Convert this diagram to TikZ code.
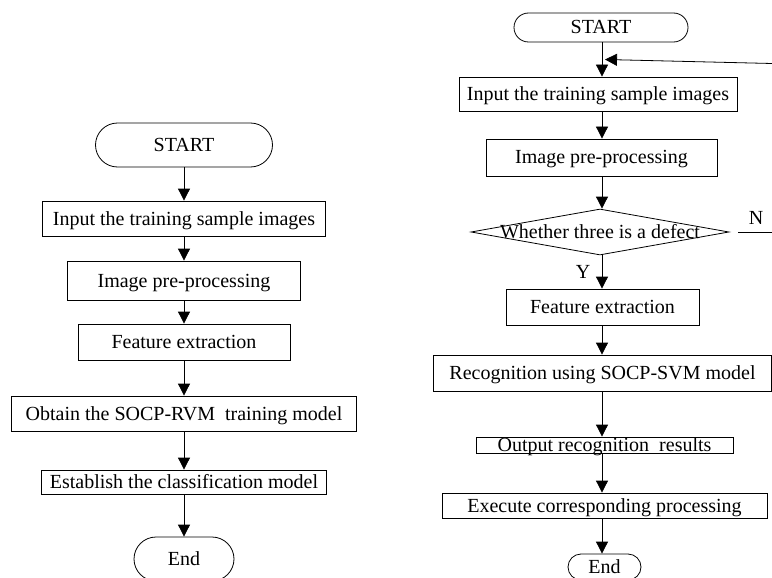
\documentclass[tikz,border=0pt]{standalone}
\usepackage{fontspec}
\setmainfont{Liberation Serif}
\usetikzlibrary{shapes.misc,shapes.geometric,arrows.meta}
\begin{document}
\begin{tikzpicture}[x=1pt,y=-1pt,
  every node/.style={font=\fontsize{20}{24}\selectfont},
  box/.style={draw,line width=0.8pt,rectangle,inner xsep=0pt,inner ysep=0pt,text height=14pt,text depth=1pt},
  term/.style={draw,line width=0.8pt,rounded rectangle,inner xsep=0pt,inner ysep=0pt,text height=14pt,text depth=1pt},
  dec/.style={draw,line width=0.8pt,diamond,inner sep=0pt},
  arr/.style={line width=0.8pt,-{Triangle[length=12pt,width=12pt]}},
  plain/.style={line width=0.8pt},
  lbl/.style={inner sep=0pt}]
\useasboundingbox (0,0) rectangle (772,578);
% ---------- left chart ----------
\node[term,minimum width=177pt,minimum height=44pt] (S1) at (184,145) {START};
\node[box,minimum width=283pt,minimum height=35pt] (L1) at (184,218.5) {Input the training sample images};
\node[box,minimum width=233pt,minimum height=39pt] (L2) at (184,280.5) {Image pre-processing};
\node[box,minimum width=212pt,minimum height=36pt] (L3) at (184,342) {Feature extraction};
\node[box,minimum width=345pt,minimum height=35pt] (L4) at (184,413.5) {Obtain the SOCP-RVM\ \ training model};
\node[box,minimum width=285pt,minimum height=24pt] (L5) at (184,482) {Establish the classification model};
\node[term,minimum width=100pt,minimum height=44pt] (E1) at (184,559) {End};
\draw[arr] (S1.south) -- (L1.north);
\draw[arr] (L1.south) -- (L2.north);
\draw[arr] (L2.south) -- (L3.north);
\draw[arr] (L3.south) -- (L4.north);
\draw[arr] (L4.south) -- (L5.north);
\draw[arr] (L5.south) -- (E1.north);
% ---------- right chart ----------
\coordinate (ax) at (602,0);
\node[term,minimum width=174pt,minimum height=29pt] (S2) at (601,27.5) {START};
\node[box,minimum width=278pt,minimum height=34pt] (R1) at (598,94) {Input the training sample images};
\node[box,minimum width=231pt,minimum height=37pt] (R2) at (601.5,157.5) {Image pre-processing};
\node[dec,minimum width=258pt,minimum height=46pt] (D) at (600,232) {};
\node[lbl] (Dt) at (D.center) {Whether three is a defect};
\node[box,minimum width=193pt,minimum height=36pt] (R3) at (602.5,307) {Feature extraction};
\node[box,minimum width=338pt,minimum height=36pt] (R4) at (602.5,373) {Recognition using SOCP-SVM model};
\node[box,minimum width=257pt,minimum height=16pt] (R5) at (604.5,445) {Output recognition\ \ results};
\node[box,minimum width=325pt,minimum height=25pt] (R6) at (604.5,505.5) {Execute corresponding processing};
\node[term,minimum width=73pt,minimum height=26pt] (E2) at (604.5,567) {End};
\draw[arr] (ax |- S2.south) -- (ax |- R1.north);
\draw[arr] (ax |- R1.south) -- (ax |- R2.north);
\draw[arr] (ax |- R2.south) -- (ax |- D.north);
\draw[arr] (ax |- D.south) -- (ax |- R3.north);
\draw[arr] (ax |- R3.south) -- (ax |- R4.north);
\draw[arr] (ax |- R4.south) -- (ax |- R5.north);
\draw[arr] (ax |- R5.south) -- (ax |- R6.north);
\draw[arr] (ax |- R6.south) -- (ax |- E2.north);
% labels Y / N and feedback
\node[lbl] (Y) at (583,272) {Y};
\node[lbl] (N) at (756,218) {N};
\coordinate (n0) at (738,232);
\coordinate (n1) at (772,232);
\draw[plain] (n0) -- (n1);
\coordinate (fb0) at (772,63.5);
\coordinate (fb1) at (605,59.5);
\draw[arr] (fb0) -- (fb1);
\end{tikzpicture}
\end{document}
